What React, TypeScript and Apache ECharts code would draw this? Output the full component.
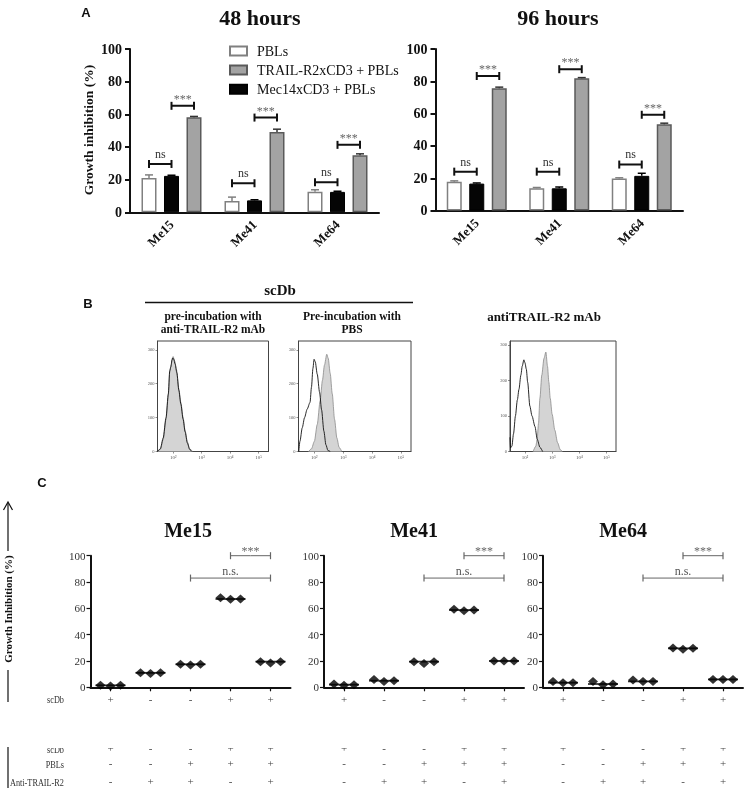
import React, { useEffect, useRef } from 'react';
import * as echarts from 'echarts';

const SERIF = '"Liberation Serif", "Times New Roman", serif';
const SANS = '"Liberation Sans", Arial, sans-serif';

// ---------------- Panel A data ----------------
const barCategories = ['Me15', 'Me41', 'Me64'];
const barSeriesNames = ['PBLs', 'Mec14xCD3 + PBLs', 'TRAIL-R2xCD3 + PBLs'];
const legendOrder = ['PBLs', 'TRAIL-R2xCD3 + PBLs', 'Mec14xCD3 + PBLs'];

const pbls48h = [21.0, 6.9, 12.6];
const pblsErr48h = [1.9, 2.4, 1.2];
const mec48h = [22.3, 7.3, 12.5];
const mecErr48h = [0.4, 0.4, 0.4];
const trail48h = [58.2, 49.1, 34.9];
const trailErr48h = [0.5, 1.8, 0.9];
const nsLevel48h = [29.6, 17.8, 18.4];
const starLevel48h = [65.2, 58.0, 41.3];

const pbls96h = [17.9, 13.8, 19.9];
const pblsErr96h = [0.5, 0.5, 0.4];
const mec96h = [16.7, 13.8, 21.5];
const mecErr96h = [0.4, 0.8, 1.6];
const trail96h = [75.7, 81.9, 53.5];
const trailErr96h = [0.7, 0.4, 0.6];
const nsLevel96h = [24.1, 24.1, 28.5];
const starLevel96h = [83.3, 87.5, 59.3];

// ---------------- Panel B data (log10 intensity, count) ----------------
const histTickValues = [2, 3, 4, 5];
const histTickLabels = ['10²', '10³', '10⁴', '10⁵'];
const histYTicks = [0, 100, 200, 300];
const histYMax = [326, 326, 311];

const hist1Gray = [[1.45, 0], [1.55, 6], [1.65, 35], [1.75, 95], [1.83, 165], [1.88, 235], [1.93, 255], [1.97, 275], [2.0, 280], [2.05, 268], [2.12, 240], [2.2, 185], [2.27, 145], [2.35, 100], [2.42, 62], [2.5, 28], [2.58, 8], [2.68, 0]];
const hist1Line = [[1.45, 0], [1.55, 8], [1.65, 40], [1.75, 100], [1.83, 170], [1.88, 238], [1.92, 250], [1.96, 270], [1.99, 276], [2.02, 272], [2.07, 258], [2.13, 232], [2.2, 180], [2.27, 140], [2.35, 95], [2.42, 58], [2.5, 25], [2.58, 6], [2.66, 0]];
const hist2Gray = [[1.8, 0], [1.9, 8], [2.0, 30], [2.1, 80], [2.2, 150], [2.28, 210], [2.35, 255], [2.43, 287], [2.48, 275], [2.55, 230], [2.62, 170], [2.7, 95], [2.78, 40], [2.86, 12], [2.95, 0]];
const hist2Line = [[1.46, 0], [1.5, 30], [1.58, 70], [1.66, 100], [1.75, 125], [1.85, 145], [1.9, 190], [1.95, 245], [1.99, 272], [2.03, 265], [2.1, 228], [2.18, 175], [2.25, 123], [2.33, 60], [2.4, 20], [2.47, 3], [2.55, 0]];
const hist3Gray = [[2.3, 0], [2.4, 15], [2.45, 35], [2.5, 80], [2.55, 150], [2.62, 215], [2.7, 262], [2.77, 280], [2.83, 240], [2.88, 195], [2.93, 150], [3.0, 105], [3.1, 60], [3.2, 25], [3.3, 5], [3.38, 0]];
const hist3Line = [[1.45, 40], [1.47, 10], [1.52, 15], [1.58, 50], [1.65, 100], [1.72, 145], [1.78, 175], [1.85, 215], [1.9, 240], [1.96, 258], [2.0, 250], [2.05, 232], [2.1, 195], [2.18, 128], [2.26, 100], [2.37, 70], [2.45, 35], [2.55, 12], [2.65, 0]];

// ---------------- Panel C data ----------------
const conditionIdx = [1, 2, 3, 4, 5];
const scDbRow = ['+', '-', '-', '+', '+'];
const pblsRow = ['-', '-', '+', '+', '+'];
const antiRow = ['-', '+', '+', '-', '+'];
const me15Reps = [[1.5, 1.0, 1.5], [11, 10.5, 11], [17.5, 17, 17.5], [68, 66.9, 67.1], [19.5, 18.5, 19.5]];
const me41Reps = [[2.5, 1.5, 2], [6, 4.5, 5], [19.5, 18, 19.5], [59.3, 58.2, 58.7], [20, 20, 20]];
const me64Reps = [[4.5, 3.5, 3.5], [4.5, 2, 2.5], [5.5, 4.5, 4.5], [29.9, 28.9, 29.6], [6, 6, 6]];
const cTitles = ['Me15', 'Me41', 'Me64'];
const nsCompare = [3, 5];
const starCompare = [4, 5];
const nsLevelC = 83;
const starLevelC = 100;

// ---------------- layout / style constants ----------------
const BAR_W = 15;
const BAR_GAP = 7.5;
const BAR_STYLES = [
  { color: '#ffffff', borderColor: '#808080', borderWidth: 1.5 },
  { color: '#050505', borderColor: '#000000', borderWidth: 1 },
  { color: '#a3a3a7', borderColor: '#5a5a5a', borderWidth: 1.5 },
];
const ERR_COLORS = ['#808080', '#000000', '#333333'];
const REP_OFF = [-0.25, 0, 0.25];

function renderErrorBar(params: any, api: any) {
  const x = api.value(0), v = api.value(1), e = api.value(2), s = api.value(3);
  const p0 = api.coord([x, v]);
  const p1 = api.coord([x, v + e]);
  const stroke = ERR_COLORS[s];
  return {
    type: 'group',
    children: [
      { type: 'line', shape: { x1: p0[0], y1: p0[1], x2: p1[0], y2: p1[1] }, style: { stroke, lineWidth: 1.5 } },
      { type: 'line', shape: { x1: p1[0] - 4, y1: p1[1], x2: p1[0] + 4, y2: p1[1] }, style: { stroke, lineWidth: 1.5 } },
    ],
  };
}

function bracket(xi: number, yi: number, x1: number, x2: number, y: number, text: string, st: any) {
  return {
    type: 'line', xAxisIndex: xi, yAxisIndex: yi, silent: true, clip: false, z: 6,
    symbol: 'rect', symbolSize: st.cap, showSymbol: true,
    lineStyle: { color: st.color, width: st.width },
    itemStyle: { color: st.color },
    data: [
      [x1, y],
      {
        value: [(x1 + x2) / 2, y], symbol: 'rect', symbolSize: [0.1, 0.1],
        itemStyle: { color: 'rgba(0,0,0,0)' },
        label: { show: true, position: 'top', distance: st.dist, formatter: text, color: st.textColor, fontFamily: SERIF, fontSize: st.fontSize },
      },
      [x2, y],
    ],
  };
}

const A_NS = { cap: [2, 8], color: '#111', width: 2, dist: 4, textColor: '#333', fontSize: 12 };
const A_STAR = { cap: [2, 8], color: '#111', width: 2, dist: 1, textColor: '#666', fontSize: 12 };
const C_NS = { cap: [1.2, 7], color: '#666', width: 1, dist: 1, textColor: '#555', fontSize: 12 };
const C_STAR = { cap: [1.2, 7], color: '#666', width: 1, dist: -1, textColor: '#666', fontSize: 12 };

function median(a: number[]) {
  const s = [...a].sort((p, q) => p - q);
  return s[1];
}

function txt(text: string, x: number, y: number, size: number, o: any = {}) {
  return {
    type: 'text', x, y, rotation: o.rotation || 0, scaleX: o.scaleX || 1, z: o.z ?? 10,
    style: {
      text, fontSize: size, fontFamily: o.family || SERIF, fontWeight: o.weight || 'normal',
      fill: o.color || '#111', align: o.align || 'center', verticalAlign: 'middle', lineHeight: o.lineHeight,
    },
  };
}
function ln(x1: number, y1: number, x2: number, y2: number, w = 1.5, c = '#111') {
  return { type: 'line', shape: { x1, y1, x2, y2 }, style: { stroke: c, lineWidth: w }, z: 10 };
}

function buildOption() {
  const grid: any[] = [];
  const xAxis: any[] = [];
  const yAxis: any[] = [];
  const series: any[] = [];

  // ---------- Panel A ----------
  const aSets = [
    { layout: { left: 130, top: 49, width: 249, height: 163.3 }, values: [pbls48h, mec48h, trail48h], errs: [pblsErr48h, mecErr48h, trailErr48h], ns: nsLevel48h, star: starLevel48h },
    { layout: { left: 435.5, top: 49, width: 247.5, height: 161.6 }, values: [pbls96h, mec96h, trail96h], errs: [pblsErr96h, mecErr96h, trailErr96h], ns: nsLevel96h, star: starLevel96h },
  ];
  aSets.forEach((set) => {
    const g = grid.length;
    grid.push({ ...set.layout });
    const xc = xAxis.length;
    xAxis.push({
      type: 'category', gridIndex: g, data: barCategories,
      axisLine: { onZero: false, lineStyle: { color: '#111', width: 2 } },
      axisTick: { alignWithLabel: true, length: 5, lineStyle: { color: '#111', width: 2 } },
      axisLabel: { rotate: 45, margin: 10, fontFamily: SERIF, fontWeight: 'bold', fontSize: 13, color: '#111' },
    });
    const xv = xAxis.length;
    xAxis.push({ type: 'value', gridIndex: g, min: -0.5, max: 2.5, show: false, axisLine: { onZero: false } });
    const yi = yAxis.length;
    yAxis.push({
      type: 'value', gridIndex: g, min: 0, max: 100, interval: 20,
      axisLine: { show: true, onZero: false, lineStyle: { color: '#111', width: 2 } },
      axisTick: { show: true, length: 5, lineStyle: { color: '#111', width: 2 } },
      axisLabel: { margin: 8, fontFamily: SERIF, fontWeight: 'bold', fontSize: 14, color: '#111' },
      splitLine: { show: false },
    });
    const off = (BAR_W + BAR_GAP) / (set.layout.width / barCategories.length);
    set.values.forEach((vals, s) => {
      series.push({
        type: 'bar', name: barSeriesNames[s], xAxisIndex: xc, yAxisIndex: yi, data: vals,
        barWidth: BAR_W, barGap: '50%', itemStyle: BAR_STYLES[s], silent: true,
      });
    });
    const errData: any[] = [];
    set.values.forEach((vals, s) => vals.forEach((v, i) => errData.push([i + (s - 1) * off, v, set.errs[s][i], s])));
    series.push({ type: 'custom', xAxisIndex: xv, yAxisIndex: yi, data: errData, renderItem: renderErrorBar, z: 5, silent: true, clip: false });
    barCategories.forEach((_, i) => {
      series.push(bracket(xv, yi, i - off, i, set.ns[i], 'ns', A_NS));
      series.push(bracket(xv, yi, i, i + off, set.star[i], '***', A_STAR));
    });
  });

  // ---------- Panel B ----------
  const histPanels = [
    { layout: { left: 157.5, top: 341, width: 111, height: 110.5 }, gray: hist1Gray, line: hist1Line, yMax: histYMax[0] },
    { layout: { left: 298.5, top: 341, width: 112.5, height: 110.5 }, gray: hist2Gray, line: hist2Line, yMax: histYMax[1] },
    { layout: { left: 510, top: 341, width: 106, height: 110.5 }, gray: hist3Gray, line: hist3Line, yMax: histYMax[2] },
  ];
  histPanels.forEach((h) => {
    const g = grid.length;
    grid.push({ ...h.layout, show: true, borderColor: '#444', borderWidth: 1 });
    const xi = xAxis.length;
    xAxis.push({
      type: 'value', gridIndex: g, min: 1.45, max: 5.35,
      axisLine: { onZero: false, lineStyle: { color: '#444', width: 1 } },
      axisTick: { customValues: histTickValues, length: 2, lineStyle: { color: '#444', width: 0.6 } },
      axisLabel: { customValues: histTickValues, formatter: (v: number) => histTickLabels[histTickValues.indexOf(v)], fontSize: 5, color: '#555', margin: 3 },
      splitLine: { show: false },
    });
    const yi = yAxis.length;
    yAxis.push({
      type: 'value', gridIndex: g, min: 0, max: h.yMax,
      axisLine: { show: true, onZero: false, lineStyle: { color: '#444', width: 1 } },
      axisTick: { show: true, customValues: histYTicks, length: 2, lineStyle: { color: '#444', width: 0.6 } },
      axisLabel: { customValues: histYTicks, fontSize: 4.5, color: '#555', margin: 3 },
      splitLine: { show: false },
    });
    series.push({
      type: 'line', xAxisIndex: xi, yAxisIndex: yi, data: h.gray, symbol: 'none', smooth: 0.25, smoothMonotone: 'x',
      lineStyle: { color: '#8a8a8a', width: 0.8 }, areaStyle: { color: '#d4d4d4', opacity: 1 }, silent: true, z: 2,
    });
    series.push({
      type: 'line', xAxisIndex: xi, yAxisIndex: yi, data: h.line, symbol: 'none', smooth: 0.25, smoothMonotone: 'x',
      lineStyle: { color: '#111', width: 0.9 }, silent: true, z: 3,
    });
  });

  // ---------- Panel C ----------
  const cCharts = [
    { layout: { left: 90.5, top: 555.7, width: 200, height: 131.6 }, reps: me15Reps },
    { layout: { left: 324, top: 555.7, width: 200, height: 131.6 }, reps: me41Reps },
    { layout: { left: 543, top: 555.7, width: 200, height: 131.6 }, reps: me64Reps },
  ];
  const tableRows = [
    { signs: scDbRow, offset: 49.5 },
    { signs: pblsRow, offset: 64.5 },
    { signs: antiRow, offset: 82.5 },
  ];
  const SIGN_FONT = 11;
  cCharts.forEach((c) => {
    const g = grid.length;
    grid.push({ ...c.layout });
    const xm = xAxis.length;
    xAxis.push({
      type: 'value', gridIndex: g, min: 0.5, max: 5.5,
      axisLine: { onZero: false, lineStyle: { color: '#111', width: 2 } },
      axisTick: { customValues: conditionIdx, length: 4, lineStyle: { color: '#111', width: 1.2 } },
      axisLabel: { customValues: conditionIdx, formatter: (v: number) => scDbRow[Math.round(v) - 1], margin: 6, fontSize: SIGN_FONT, fontFamily: SERIF, color: '#444' },
      splitLine: { show: false },
    });
    tableRows.forEach((row) => {
      xAxis.push({
        type: 'category', gridIndex: g, position: 'bottom', offset: row.offset, data: conditionIdx.map(String),
        axisLine: { show: false, onZero: false }, axisTick: { show: false }, splitLine: { show: false },
        axisLabel: { interval: 0, formatter: (_v: string, i: number) => row.signs[i], margin: 6, fontSize: SIGN_FONT, fontFamily: SERIF, color: '#444' },
      });
    });
    const yi = yAxis.length;
    yAxis.push({
      type: 'value', gridIndex: g, min: 0, max: 100, interval: 20,
      axisLine: { show: true, onZero: false, lineStyle: { color: '#111', width: 2 } },
      axisTick: { show: true, length: 4, lineStyle: { color: '#111', width: 1.2 } },
      axisLabel: { margin: 5, fontFamily: SERIF, fontSize: 11, color: '#333' },
      splitLine: { show: false },
    });
    const pts: number[][] = [];
    c.reps.forEach((arr, ci) => arr.forEach((v, r) => pts.push([conditionIdx[ci] + REP_OFF[r], v])));
    series.push({
      type: 'scatter', xAxisIndex: xm, yAxisIndex: yi, data: c.reps.map((arr, ci) => [conditionIdx[ci], median(arr)]),
      symbol: 'rect', symbolSize: [30, 1.8], itemStyle: { color: '#000' }, silent: true, z: 3,
    });
    series.push({
      type: 'scatter', xAxisIndex: xm, yAxisIndex: yi, data: pts,
      symbol: 'diamond', symbolSize: [10, 9], itemStyle: { color: '#000' }, silent: true, z: 4,
    });
    series.push(bracket(xm, yi, nsCompare[0], nsCompare[1], nsLevelC, 'n.s.', C_NS));
    series.push(bracket(xm, yi, starCompare[0], starCompare[1], starLevelC, '***', C_STAR));
  });

  const ROW_NAME = { align: 'right', color: '#333', scaleX: 0.75 };
  const graphic: any[] = [
    txt('A', 86, 12, 13, { family: SANS, weight: 'bold' }),
    txt('48 hours', 260, 17, 22, { weight: 'bold' }),
    txt('96 hours', 558, 17, 22, { weight: 'bold' }),
    txt('Growth inhibition (%)', 88, 130, 13.5, { weight: 'bold', rotation: Math.PI / 2 }),
    txt('B', 88, 303, 13, { family: SANS, weight: 'bold' }),
    txt('scDb', 280, 290, 15, { weight: 'bold' }),
    ln(145, 302.5, 413, 302.5, 1.5),
    txt('pre-incubation with\nanti-TRAIL-R2 mAb', 213, 322.5, 11.5, { weight: 'bold', lineHeight: 13.5 }),
    txt('Pre-incubation with\nPBS', 352, 322.5, 11.5, { weight: 'bold', lineHeight: 13.5 }),
    txt('antiTRAIL-R2 mAb', 544, 316, 13, { weight: 'bold' }),
    txt('C', 42, 482, 13, { family: SANS, weight: 'bold' }),
    txt(cTitles[0], 188, 530, 20, { weight: 'bold' }),
    txt(cTitles[1], 414, 530, 20, { weight: 'bold' }),
    txt(cTitles[2], 623, 530, 20, { weight: 'bold' }),
    ln(8, 551, 8, 503, 1.2),
    { type: 'polyline', shape: { points: [[3.5, 510], [8, 502], [12.5, 510]] }, style: { stroke: '#111', lineWidth: 1.2, fill: 'none' }, z: 10 },
    txt('Growth Inhibition (%)', 8, 609, 11, { weight: 'bold', rotation: Math.PI / 2 }),
    ln(8, 670, 8, 702, 1.2),
    ln(8, 747, 8, 788, 1.2),
    txt('scDb', 64, 699.5, 11, ROW_NAME),
    txt('scDb', 64, 749, 11, ROW_NAME),
    txt('PBLs', 64, 764, 11, ROW_NAME),
    txt('Anti-TRAIL-R2', 64, 782, 11, ROW_NAME),
    { type: 'rect', shape: { x: 30, y: 735, width: 716, height: 13 }, style: { fill: '#ffffff' }, z: 100 },
  ];

  return {
    backgroundColor: '#ffffff',
    animation: false,
    textStyle: { fontFamily: SERIF },
    legend: {
      data: legendOrder, orient: 'vertical', left: 229, top: 44, padding: 0, itemWidth: 17, itemHeight: 9, itemGap: 5.1,
      icon: 'rect', selectedMode: false,
      textStyle: { fontFamily: SERIF, fontSize: 14, color: '#111', padding: [0, 0, 0, 5] },
    },
    grid, xAxis, yAxis, series, graphic,
  };
}

export default function App() {
  const ref = useRef<HTMLDivElement>(null);
  useEffect(() => {
    document.body.style.margin = '0';
    const chart = echarts.init(ref.current!, null, { renderer: 'svg' });
    chart.setOption(buildOption() as any);
    return () => chart.dispose();
  }, []);
  return <div ref={ref} style={{ width: 746, height: 788, background: '#fff', filter: 'grayscale(1)' }} />;
}
